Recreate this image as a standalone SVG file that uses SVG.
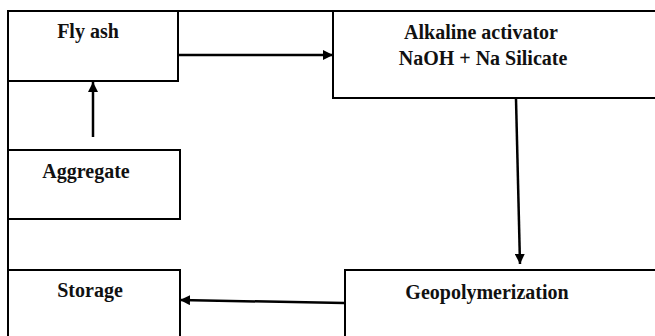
<svg xmlns="http://www.w3.org/2000/svg" width="655" height="336" viewBox="0 0 655 336">
  <defs>
    <style>
      .box { fill: #fff; stroke: #000; stroke-width: 2; }
      .frame { fill: none; stroke: #000; stroke-width: 2; }
      .conn { fill: none; stroke: #000; stroke-width: 2.5; }
      .lbl { font-family: "Liberation Serif", "Times New Roman", serif; font-weight: bold; font-size: 20px; fill: #111; text-anchor: middle; }
    </style>
    <marker id="ah" markerUnits="userSpaceOnUse" markerWidth="12" markerHeight="10" refX="10" refY="5" orient="auto">
      <path d="M0,0 L10,5 L0,10 z" fill="#000"/>
    </marker>
  </defs>
  <rect width="655" height="336" fill="#fff"/>
  <g id="frame">
    <path class="frame" d="M8,340 L8,11 L660,11"/>
  </g>
  <g id="fly-ash">
    <rect class="box" x="8" y="11" width="170" height="70"/>
    <text class="lbl" x="88" y="38">Fly ash</text>
  </g>
  <g id="alkaline-activator">
    <rect class="box" x="333" y="11" width="330" height="87"/>
    <text class="lbl" x="481" y="39">Alkaline activator</text>
    <text class="lbl" x="483" y="65">NaOH + Na Silicate</text>
  </g>
  <g id="aggregate">
    <rect class="box" x="8" y="150" width="172" height="69"/>
    <text class="lbl" x="86" y="178">Aggregate</text>
  </g>
  <g id="storage">
    <rect class="box" x="8" y="270" width="172" height="80"/>
    <text class="lbl" x="90" y="297">Storage</text>
  </g>
  <g id="geopolymerization">
    <rect class="box" x="345" y="270" width="320" height="80"/>
    <text class="lbl" x="487" y="299">Geopolymerization</text>
  </g>
  <g id="connectors">
    <line class="conn" x1="179" y1="55" x2="333" y2="55" marker-end="url(#ah)"/>
    <line class="conn" x1="93" y1="137" x2="93" y2="82" marker-end="url(#ah)"/>
    <line class="conn" x1="516" y1="99" x2="520" y2="264" marker-end="url(#ah)"/>
    <line class="conn" x1="344" y1="303" x2="180" y2="300" marker-end="url(#ah)"/>
  </g>
</svg>
